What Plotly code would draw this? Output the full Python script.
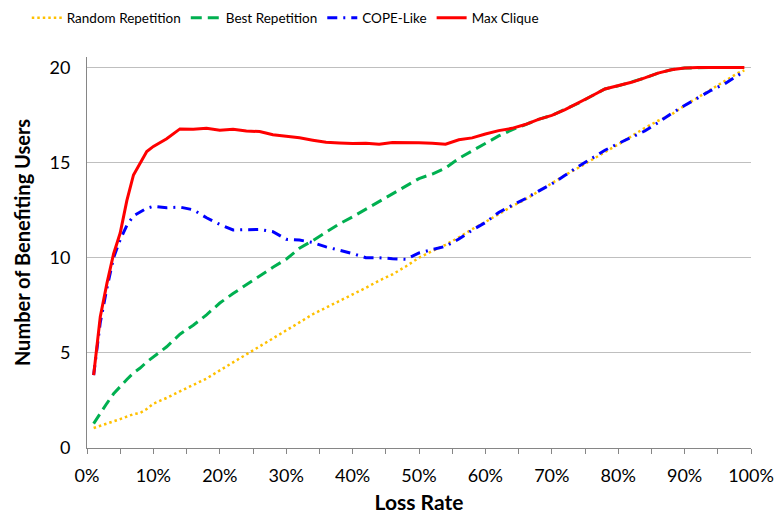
import plotly.graph_objects as go

loss_rate = [1, 2, 3, 4, 5, 6, 7, 8, 9, 10, 12, 14, 16, 18, 20, 22, 24, 26, 28, 30,
             32, 34, 36, 38, 40, 42, 44, 46, 48, 50, 52, 54, 56, 58, 60, 62, 64, 66,
             68, 70, 72, 74, 76, 78, 80, 82, 84, 86, 88, 90, 92, 94, 96, 98, 99]

random_rep = [1.05, 1.18, 1.30, 1.40, 1.52, 1.66, 1.78, 1.84, 2.05, 2.33, 2.63, 2.98, 3.33, 3.65,
              4.08, 4.50, 4.89, 5.30, 5.72, 6.15, 6.60, 7.03, 7.37, 7.73, 8.08, 8.42, 8.80, 9.12,
              9.54, 10.00, 10.35, 10.68, 11.07, 11.50, 11.88, 12.30, 12.70, 13.06, 13.48, 13.94,
              14.34, 14.73, 15.12, 15.55, 15.95, 16.40, 16.82, 17.20, 17.52, 18.00, 18.43, 18.85,
              19.26, 19.70, 19.85]

best_rep = [1.28, 1.85, 2.35, 2.85, 3.25, 3.60, 3.95, 4.20, 4.52, 4.78, 5.32, 5.98, 6.45, 7.00,
            7.62, 8.12, 8.58, 9.06, 9.50, 9.92, 10.50, 10.90, 11.33, 11.78, 12.15, 12.55, 12.93,
            13.33, 13.75, 14.16, 14.40, 14.72, 15.22, 15.60, 16.00, 16.40, 16.72, 17.00, 17.27,
            17.48, 17.78, 18.12, 18.50, 18.87, 19.03, 19.22, 19.45, 19.70, 19.88, 19.97, 20.00,
            20.00, 20.00, 20.00, 20.00]

cope_like = [3.83, 6.60, 8.40, 10.00, 10.95, 11.70, 12.20, 12.42, 12.60, 12.70, 12.63, 12.66,
             12.52, 12.10, 11.75, 11.46, 11.47, 11.49, 11.37, 10.97, 10.93, 10.80, 10.57, 10.40,
             10.22, 10.00, 10.00, 9.95, 9.92, 10.25, 10.42, 10.60, 10.98, 11.45, 11.85, 12.38,
             12.75, 13.10, 13.50, 13.88, 14.33, 14.80, 15.22, 15.65, 16.00, 16.35, 16.66, 17.10,
             17.58, 18.00, 18.40, 18.80, 19.13, 19.60, 19.80]

max_clique = [3.83, 6.90, 8.65, 10.20, 11.30, 13.00, 14.35, 15.00, 15.58, 15.85, 16.25, 16.77,
              16.75, 16.80, 16.70, 16.75, 16.66, 16.63, 16.46, 16.38, 16.30, 16.18, 16.07, 16.03,
              16.00, 16.02, 15.97, 16.06, 16.06, 16.04, 16.02, 15.97, 16.20, 16.30, 16.50, 16.68,
              16.80, 17.00, 17.27, 17.48, 17.78, 18.12, 18.50, 18.87, 19.03, 19.22, 19.45, 19.70,
              19.88, 19.97, 20.00, 20.00, 20.00, 20.00, 20.00]

x_ticks = [0, 10, 20, 30, 40, 50, 60, 70, 80, 90, 100]
y_ticks = [0, 5, 10, 15, 20]

FONT = "Lato, Liberation Sans, sans-serif"

fig = go.Figure()
fig.add_trace(go.Scatter(x=loss_rate, y=random_rep, mode="lines", name="Random Repetition",
                         line=dict(color="#FFC000", width=2.5, dash="2.5px,3px")))
fig.add_trace(go.Scatter(x=loss_rate, y=best_rep, mode="lines", name="Best Repetition",
                         line=dict(color="#00B050", width=3, dash="11px,6px")))
fig.add_trace(go.Scatter(x=loss_rate, y=cope_like, mode="lines", name="COPE-Like",
                         line=dict(color="#0000FF", width=3, dash="10px,6px,2px,6px")))
fig.add_trace(go.Scatter(x=loss_rate, y=max_clique, mode="lines", name="Max Clique",
                         line=dict(color="#FF0000", width=3)))

fig.update_layout(
    width=782, height=520,
    paper_bgcolor="white", plot_bgcolor="white",
    margin=dict(l=79, r=39, t=49, b=80, autoexpand=False),
    font=dict(family=FONT, size=16, color="black"),
    showlegend=True,
    legend=dict(orientation="h", xref="container", yref="paper",
                x=0.024, y=1.1, xanchor="left", yanchor="middle",
                font=dict(family=FONT, size=13.5), bgcolor="rgba(0,0,0,0)",
                itemwidth=30, tracegroupgap=0),
    xaxis=dict(range=[0, 100], tickvals=x_ticks, ticktext=[f"{v}%" for v in x_ticks],
               automargin=False,
               showgrid=False, zeroline=False, showline=True, linecolor="#868686", linewidth=1,
               ticks="outside", ticklen=5, tickcolor="#868686", ticklabelstandoff=6,
               minor=dict(dtick=5, tick0=0, ticks="outside", ticklen=5, tickcolor="#868686", showgrid=False),
               tickfont=dict(family=FONT, size=18),
               title=dict(text="<b>Loss Rate</b>", font=dict(family=FONT, size=21), standoff=10)),
    yaxis=dict(range=[0, 20.55], tickvals=y_ticks, automargin=False,
               showgrid=True, gridcolor="#BFBFBF", gridwidth=1, zeroline=False,
               showline=True, linecolor="#868686", linewidth=1, ticks="", ticklabelstandoff=12,
               tickfont=dict(family=FONT, size=18)),
    annotations=[dict(text="<b>Number of Benefiting Users</b>", textangle=-90,
                      xref="paper", yref="paper", x=0, y=0.524, xanchor="center", yanchor="middle",
                      xshift=-65, showarrow=False, font=dict(family=FONT, size=20, color="black"))],
)

fig.write_html("out.html")
